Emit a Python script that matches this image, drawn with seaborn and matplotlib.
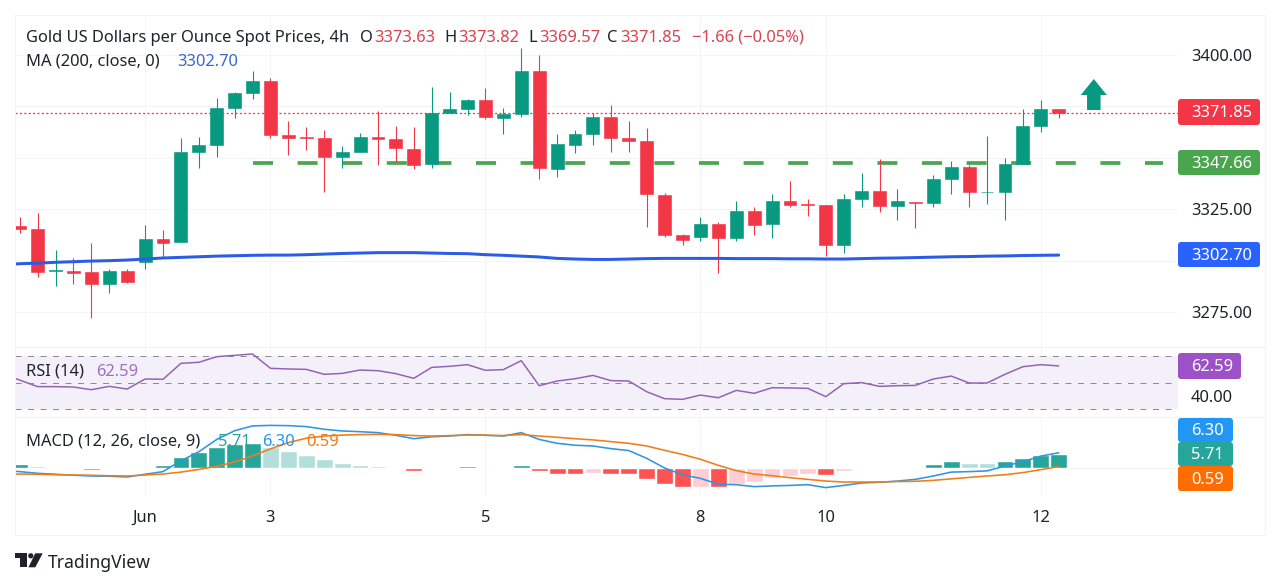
import numpy as np
import pandas as pd
import seaborn as sns
import matplotlib.pyplot as plt
from matplotlib.patches import FancyBboxPatch, Polygon, Circle, FancyArrow

# candles, 4h bars
opens = [3316.8, 3315.5, 3295.2, 3294.9, 3294.3, 3288.8, 3294.8, 3299.5, 3310.3, 3309.0,
         3352.7, 3356.4, 3374.4, 3381.5, 3387.5, 3361.3, 3360.2, 3359.5, 3350.5, 3352.7,
         3360.1, 3359.3, 3354.5, 3346.8, 3371.6, 3373.6, 3378.1, 3369.5, 3371.3, 3392.2,
         3344.6, 3356.4, 3361.7, 3369.7, 3359.6, 3358.3, 3332.1, 3312.5, 3311.5, 3318.0,
         3311.0, 3324.3, 3317.8, 3328.8, 3327.4, 3326.9, 3307.6, 3330.1, 3333.9, 3326.7,
         3328.7, 3327.9, 3339.6, 3345.7, 3333.2, 3333.2, 3346.8, 3365.5, 3373.63]
highs = [3321.4, 3323.0, 3305.2, 3301.1, 3308.4, 3295.9, 3295.9, 3317.2, 3314.9, 3359.5,
         3360.3, 3379.1, 3382.2, 3392.4, 3389.0, 3368.1, 3364.8, 3363.5, 3355.7, 3361.9,
         3372.6, 3365.5, 3364.8, 3384.6, 3382.2, 3378.8, 3384.1, 3374.5, 3403.4, 3400.2,
         3361.4, 3363.8, 3372.0, 3375.7, 3367.9, 3364.3, 3332.7, 3313.0, 3321.4, 3318.8,
         3328.8, 3325.9, 3332.4, 3338.6, 3329.8, 3326.9, 3332.6, 3342.8, 3349.3, 3334.8,
         3328.7, 3341.8, 3348.6, 3346.5, 3360.6, 3349.7, 3373.7, 3378.1, 3373.82]
lows = [3313.3, 3291.9, 3287.6, 3288.6, 3271.9, 3284.1, 3288.9, 3295.9, 3301.9, 3309.0,
        3344.9, 3350.6, 3369.5, 3378.6, 3359.5, 3351.4, 3353.8, 3333.5, 3344.9, 3352.7,
        3346.5, 3348.1, 3344.4, 3344.9, 3371.6, 3370.8, 3368.7, 3361.4, 3370.0, 3339.9,
        3340.5, 3352.5, 3356.4, 3353.0, 3353.0, 3316.5, 3311.7, 3307.6, 3309.7, 3293.8,
        3309.6, 3312.6, 3311.2, 3326.3, 3321.7, 3302.4, 3303.6, 3325.9, 3323.7, 3319.8,
        3315.9, 3325.9, 3332.4, 3326.2, 3327.5, 3319.7, 3346.8, 3362.5, 3369.57]
closes = [3315.5, 3294.6, 3295.6, 3294.1, 3288.8, 3294.8, 3289.6, 3310.3, 3308.7, 3352.8,
          3356.4, 3374.4, 3381.5, 3387.5, 3361.1, 3359.8, 3359.9, 3350.4, 3352.8, 3360.0,
          3359.1, 3354.8, 3346.5, 3371.8, 3373.7, 3378.1, 3369.7, 3371.3, 3392.2, 3344.9,
          3356.7, 3361.7, 3369.7, 3359.5, 3358.3, 3332.4, 3312.3, 3310.2, 3318.0, 3311.0,
          3324.3, 3317.5, 3328.8, 3327.2, 3327.1, 3307.6, 3330.1, 3333.9, 3326.7, 3328.8,
          3327.9, 3339.6, 3345.7, 3333.2, 3333.6, 3346.8, 3365.5, 3373.7, 3371.85]

# these start one bar before the first candle, that one gets clipped
ma200 = [3298.0, 3298.5, 3298.8, 3299.2, 3299.5, 3299.8, 3300.0, 3300.3, 3300.8, 3301.3, 3301.6,
         3301.9, 3302.2, 3302.4, 3302.6, 3302.7, 3302.7, 3302.9, 3303.2, 3303.5, 3303.7,
         3303.9, 3303.9, 3303.9, 3303.7, 3303.5, 3303.4, 3302.9, 3302.6, 3302.2, 3301.8,
         3301.1, 3300.8, 3300.6, 3300.6, 3300.8, 3301.0, 3301.1, 3301.1, 3301.1, 3301.1,
         3301.0, 3301.0, 3301.0, 3300.9, 3300.9, 3300.8, 3300.8, 3301.0, 3301.2, 3301.3,
         3301.5, 3301.7, 3301.9, 3302.0, 3302.2, 3302.3, 3302.5, 3302.6, 3302.7]
rsi = [57.0, 52.0, 47.1, 47.1, 46.8, 44.8, 47.3, 45.3, 52.8, 52.6, 64.5,
       65.3, 69.5, 70.5, 71.5, 60.8, 60.3, 60.0, 56.3, 57.0, 59.5,
       59.0, 56.8, 53.3, 61.5, 62.3, 63.5, 59.3, 59.8, 66.5, 47.8,
       51.3, 53.0, 55.5, 51.6, 51.3, 43.3, 38.1, 37.6, 40.8, 38.8,
       44.3, 42.1, 46.3, 46.1, 45.8, 39.6, 49.3, 50.1, 47.3, 47.8,
       48.0, 52.8, 55.0, 49.8, 49.8, 56.3, 62.0, 63.5, 62.59]
macd_line = [-1.0, -1.5, -2.2, -2.6, -3.0, -3.3, -3.4, -3.7, -2.6, -1.5, 3.0,
             6.7, 11.8, 15.4, 17.4, 17.6, 17.5, 17.1, 16.0, 15.3, 15.0,
             14.6, 13.5, 12.1, 12.9, 13.2, 13.8, 13.5, 13.2, 14.6, 11.8,
             10.2, 9.4, 9.1, 8.0, 7.2, 4.0, 0.0, -2.8, -4.3, -6.7,
             -6.9, -7.7, -7.4, -7.2, -6.9, -8.1, -7.2, -6.2, -5.9, -5.4,
             -4.7, -3.3, -1.7, -1.5, -1.2, 0.8, 2.6, 4.9, 6.30]
signal_line = [-2.5, -2.5, -2.6, -2.8, -2.9, -3.0, -3.2, -3.3, -2.9, -2.5, -1.7,
               -0.6, 0.7, 2.5, 5.0, 7.9, 10.5, 12.3, 13.2, 13.6, 13.8,
               13.9, 13.8, 13.4, 13.2, 13.4, 13.6, 13.6, 13.4, 13.8, 13.2,
               12.7, 12.1, 11.6, 10.9, 10.2, 9.1, 7.3, 5.6, 3.6, 1.1,
               -1.1, -2.5, -3.2, -4.0, -4.7, -5.4, -5.8, -5.8, -5.8, -5.6,
               -5.5, -5.1, -4.5, -3.9, -3.3, -2.8, -1.9, -0.7, 0.59]
macd_hist = [1.6, 0.7, 0.2, -0.4, -0.8, -0.3, -0.6, 0.5, 1.2, 4.5,
             6.6, 8.7, 9.9, 10.5, 8.8, 7.0, 5.4, 3.6, 2.2, 1.4,
             0.8, -0.3, -1.2, -0.4, 0.3, 1.0, 0.2, -0.2, 1.1, -1.4,
             -2.5, -2.5, -2.2, -2.3, -2.6, -4.5, -6.7, -7.9, -7.7, -7.9,
             -6.5, -5.8, -4.0, -3.4, -2.5, -2.9, -1.2, -0.4, -0.1, 0.5,
             0.5, 1.8, 2.9, 2.2, 1.9, 2.9, 4.3, 5.4, 5.71]
hist_strong = [1, 0, 0, 1, 1, 0, 1, 1, 1, 1,
               1, 1, 1, 1, 0, 0, 0, 0, 0, 0,
               0, 1, 1, 0, 1, 1, 0, 1, 1, 1,
               1, 1, 0, 1, 1, 1, 1, 1, 0, 1,
               0, 0, 0, 0, 0, 1, 0, 0, 0, 1,
               1, 1, 1, 0, 0, 1, 1, 1, 1]

date_labels = ['Jun', '3', '5', '8', '10', '12']
date_bars = [7, 14, 26, 38, 45, 57]
price_grid = [3275, 3300, 3325, 3350, 3375, 3400]
price_labels = ['3275.00', '', '3325.00', '', '', '3400.00']
last_close = 3371.85
level = 3347.66

UP = '#089981'
DOWN = '#f23645'
GRID = '#f3f4f8'
INK = '#1f222b'
px = 1 / 1.3889  # points per pixel at dpi 100
FS = 16.5 * px

sns.set_theme(style='white', rc={'lines.scale_dashes': False})
plt.rcParams['font.family'] = ['Noto Sans', 'DejaVu Sans']
plt.rcParams['font.size'] = FS

fig = plt.figure(figsize=(12.8, 5.87), dpi=100, facecolor='white')


def pane(left, top, right, bottom):
    return fig.add_axes([left / 1280, 1 - bottom / 587, (right - left) / 1280, (bottom - top) / 587])


ax = pane(15, 15, 1178, 347)
ax_rsi = pane(15, 347, 1178, 416)
ax_macd = pane(15, 417, 1178, 495)
over = fig.add_axes([0, 0, 1, 1], zorder=5)
over.set_xlim(0, 1280)
over.set_ylim(587, 0)
over.axis('off')
over.patch.set_alpha(0)

bars = np.arange(len(closes))
line_x = np.arange(-1, len(closes))
xlim = (-0.2624, 64.66)

# price pane
ax.plot([13, 63.8], [level, level], color='#4aa54f', lw=3.7 * px, dashes=(20 * px, 24.6 * px),
        dash_capstyle='butt', zorder=1)
ax.plot(xlim, [last_close, last_close], color=DOWN, lw=1.3 * px, dashes=(2 * px, 2.4 * px),
        dash_capstyle='butt', zorder=1)
colors = [UP if c >= o else DOWN for o, c in zip(opens, closes)]
ax.vlines(bars, lows, highs, colors=colors, lw=1.1 * px, zorder=2)
body_low = [min(o, c) for o, c in zip(opens, closes)]
body_size = [abs(o - c) for o, c in zip(opens, closes)]
ax.bar(bars, body_size, bottom=body_low, width=0.72, color=colors, edgecolor=colors, lw=0.6 * px, zorder=3)
sns.lineplot(x=line_x, y=ma200, color='#2b5ce6', lw=3 * px, ax=ax, zorder=4)
ax.set_ylim(3258.0, 3419.5)
ax.set_yticks(price_grid, price_labels)

# rsi pane
ax_rsi.axhspan(30, 70, color='#7e57c2', alpha=0.085, lw=0, zorder=0)
for lvl in (70, 50, 30):
    ax_rsi.axhline(lvl, color='#8a8d96', lw=1 * px, dashes=(6 * px, 6.5 * px), zorder=1)
sns.lineplot(x=line_x, y=rsi, color='#9561b5', lw=1.5 * px, ax=ax_rsi, zorder=3)
ax_rsi.set_ylim(25.14, 76.73)
ax_rsi.set_yticks([40], ['40.00'])

# macd pane
df = pd.DataFrame({'bar': bars, 'hist': macd_hist})
pal = {(True, True): '#26a69a', (True, False): '#b2dfdb', (False, True): '#ff5252', (False, False): '#ffcdd2'}
df['color'] = [pal[(h > 0, bool(s))] for h, s in zip(macd_hist, hist_strong)]
sns.barplot(data=df, x='bar', y='hist', hue='color', palette={c: c for c in pal.values()}, native_scale=True,
            width=0.94, dodge=False, legend=False, saturation=1, ax=ax_macd, zorder=1)
sns.lineplot(x=line_x, y=macd_line, color='#2f96e0', lw=1.6 * px, ax=ax_macd, zorder=2)
sns.lineplot(x=line_x, y=signal_line, color='#ef7d1a', lw=1.6 * px, ax=ax_macd, zorder=3)
ax_macd.set_ylim(-11.16, 21.07)
ax_macd.axhline(0, color=GRID, lw=1 * px, zorder=0)
ax_macd.set_yticks([])

for a in (ax, ax_rsi, ax_macd):
    a.set_xlim(*xlim)
    a.set_xlabel('')
    a.set_ylabel('')
    a.set_xticks(date_bars, date_labels if a is ax_macd else [''] * len(date_bars))
    a.tick_params(axis='both', length=0, labelcolor=INK, labelsize=FS)
    a.yaxis.tick_right()
    a.tick_params(axis='y', pad=13 * px)
    a.grid(True, axis='x', color=GRID, lw=1 * px)
    a.set_axisbelow(True)
    for s in a.spines.values():
        s.set_visible(False)
ax.grid(True, axis='y', color=GRID, lw=1 * px)
ax_macd.tick_params(axis='x', pad=15 * px)
plt.setp(ax_macd.get_xticklabels()[0], fontweight='bold')

# outer frame
frame = '#f0f3fa'
over.plot([15, 1265, 1265, 15, 15], [15, 15, 535, 535, 15], color=frame, lw=1 * px)
over.plot([15, 1265], [347, 347], color=frame, lw=1 * px)
over.plot([15, 1265], [416.5, 416.5], color=frame, lw=1 * px)

# legend text
RED_TXT = '#d8434f'
for x, s, col in [(26, 'Gold US Dollars per Ounce Spot Prices, 4h', INK), (360, 'O', INK), (374, '3373.63', RED_TXT),
                  (444, 'H', INK), (458, '3373.82', RED_TXT), (528, 'L', INK), (539, '3369.57', RED_TXT),
                  (607, 'C', INK), (620, '3371.85', RED_TXT), (692, '−1.66 (−0.05%)', RED_TXT)]:
    over.text(x, 38, s, color=col, va='center', ha='left')
over.text(26, 62, 'MA (200, close, 0)', color=INK, va='center')
over.text(177, 62, '3302.70', color='#3f66c9', va='center')
over.text(26, 372, 'RSI (14)', color=INK, va='center')
over.text(96, 372, '62.59', color='#a070c0', va='center')
over.text(26, 442, 'MACD (12, 26, close, 9)', color=INK, va='center')
over.text(218, 442, '5.71', color='#26a69a', va='center')
over.text(262, 442, '6.30', color='#2196f3', va='center')
over.text(306, 442, '0.59', color='#ef7d1a', va='center')

# axis tags
for top, bot, right, fc, s in [(99, 125, 1260, DOWN, '3371.85'), (150, 175, 1260, '#4aa54f', '3347.66'),
                               (242, 267, 1260, '#2962ff', '3302.70'), (353, 379, 1241, '#9c52c6', '62.59'),
                               (418, 442, 1233, '#2196f3', '6.30'), (442, 466, 1233, '#26a69a', '5.71'),
                               (466, 491, 1233, '#ff6d00', '0.59')]:
    over.add_patch(FancyBboxPatch((1180, top + 2), right - 1182, bot - top - 4, boxstyle='round,pad=2,rounding_size=3',
                                  fc=fc, ec='none', mutation_aspect=1))
    over.text(1191, (top + bot) / 2 + 1, s, color='white', va='center')

# up arrow
over.add_patch(FancyArrow(1093.8, 110, 0, -31, width=13.5, head_width=26, head_length=16,
                          length_includes_head=True, color=UP, lw=0))

# logo
over.add_patch(Polygon([(14.7, 553.3), (26.7, 553.3), (26.7, 567.3), (19.5, 567.3), (19.5, 558.3), (14.7, 558.3)], fc=INK, ec='none'))
over.add_patch(Circle((30.8, 555.8), 2.6, fc=INK, ec='none'))
over.add_patch(Polygon([(35.2, 553.3), (42.7, 553.3), (35.3, 567.3), (28.5, 567.3)], fc=INK, ec='none'))
over.text(48, 562.5, 'TradingView', color=INK, va='center', ha='left', fontsize=17.6 * px)

fig.savefig('out.png', dpi=100)
